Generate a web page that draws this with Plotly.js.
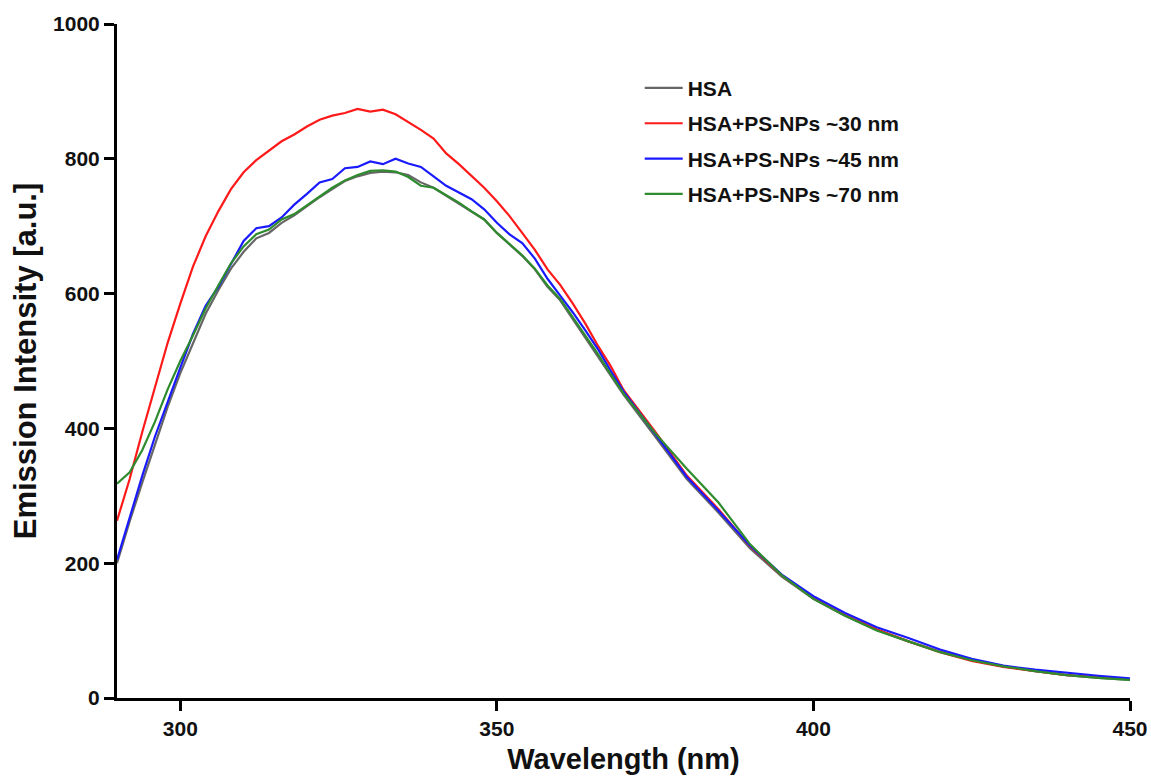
<!DOCTYPE html>
<html>
<head>
<meta charset="utf-8">
<script src="https://cdn.plot.ly/plotly-3.0.1.min.js"></script>
<style>html,body{margin:0;padding:0;background:#fff;}#chart{width:1151px;height:784px;}</style>
</head>
<body>
<div id="chart"></div>
<script>
const wavelength = [290,292,294,296,298,300,302,304,306,308,310,312,314,316,318,320,322,324,326,328,330,332,334,336,338,340,342,344,346,348,350,352,354,356,358,360,362,364,366,368,370,375,380,385,390,395,400,405,410,415,420,425,430,435,440,445,450];
const hsa = [200,262,320,375,432,482,525,570,605,637,662,682,690,705,716,730,743,755,767,774,779,781,780,776,765,757,745,733,722,710,690,673,656,636,610,590,562,535,508,478,450,388,325,275,222,180,147,122,101,84,69,56,47,40,34,30,27];
const np30 = [263,325,395,462,527,585,640,685,722,755,780,798,812,826,836,848,858,864,868,874,870,873,866,855,843,830,808,792,775,757,737,715,690,665,636,613,585,555,522,492,457,395,330,280,225,182,148,123,102,84,68,55,46,40,34,31,28];
const np45 = [205,268,330,388,440,490,540,582,610,645,678,697,700,713,732,748,765,770,786,788,796,792,800,793,788,774,760,750,740,725,705,688,675,652,622,597,572,545,517,485,455,392,328,278,226,183,151,126,105,89,72,58,48,42,37,33,29];
const np70 = [318,335,368,410,458,500,538,578,612,645,670,688,695,710,718,731,745,757,768,776,782,783,781,773,760,757,746,735,722,710,690,674,657,637,612,592,565,537,510,480,452,393,340,290,228,182,147,122,100,84,68,56,47,40,34,30,27];
const seriesNames = ["HSA","HSA+PS-NPs ~30 nm","HSA+PS-NPs ~45 nm","HSA+PS-NPs ~70 nm"];
const seriesColors = ["#666666","#ff1a1a","#1a1aff","#2e8b2e"];
const xTicks = [300,350,400,450];
const yTicks = [0,200,400,600,800,1000];

const seriesValues = [hsa,np30,np45,np70];
const traces = seriesValues.map((v,i)=>({
  x: wavelength, y: v, type:'scatter', mode:'lines', name: seriesNames[i],
  legendgroup: 'g'+i,
  line:{color: seriesColors[i], width:2.2}
}));
const F = "Liberation Sans, Arial, sans-serif";
const layout = {
  width:1151, height:784,
  margin:{l:117, r:21, t:24, b:86, pad:0},
  paper_bgcolor:'#fff', plot_bgcolor:'#fff',
  showlegend:true,
  legend:{x:0.516, y:0.935, xanchor:'left', yanchor:'top', traceorder:'grouped', tracegroupgap:5, itemwidth:38,
    font:{family:F, size:21, color:'#111', weight:'bold'}, bgcolor:'rgba(0,0,0,0)'},
  xaxis:{range:[290,450], tickvals:xTicks, ticktext:xTicks.map(String), showgrid:false, zeroline:false,
    showline:true, linecolor:'#000', linewidth:3, ticks:'outside', ticklen:10, tickwidth:3, tickcolor:'#000',
    tickfont:{family:F, size:21, color:'#111', weight:'bold'},
    title:{text:'Wavelength (nm)', font:{family:F, size:29, color:'#111', weight:'bold'}, standoff:10}},
  yaxis:{range:[0,1000], tickvals:yTicks, ticktext:yTicks.map(String), showgrid:false, zeroline:false,
    showline:true, linecolor:'#000', linewidth:3, ticks:'outside', ticklen:10, tickwidth:3, tickcolor:'#000',
    tickfont:{family:F, size:21, color:'#111', weight:'bold'},
    title:{text:'Emission Intensity [a.u.]', font:{family:F, size:31, color:'#111', weight:'bold'}, standoff:8}}
};
Plotly.newPlot('chart', traces, layout, {displayModeBar:false, staticPlot:true});
</script>
</body>
</html>
